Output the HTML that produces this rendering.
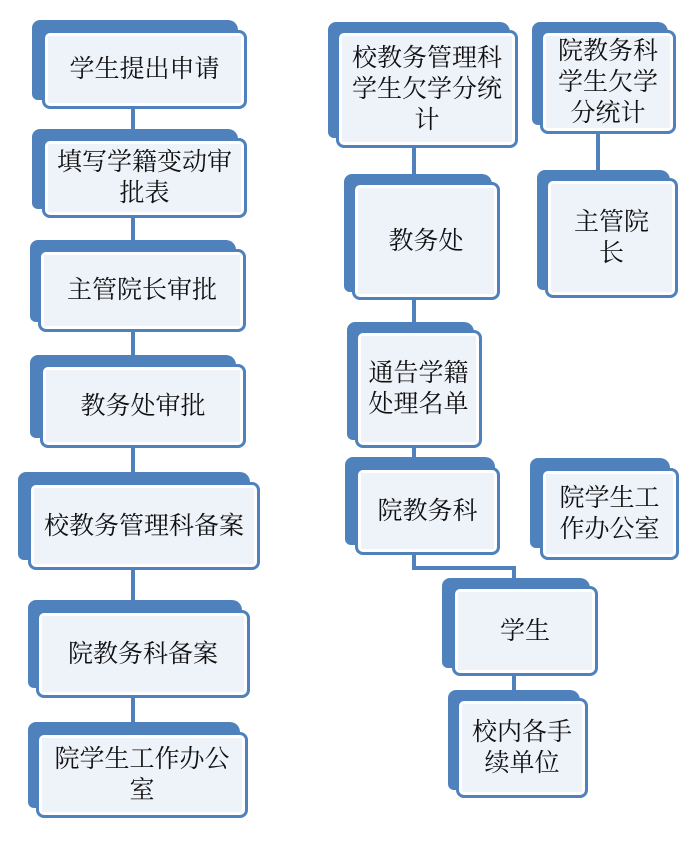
<!DOCTYPE html>
<html><head><meta charset="utf-8"><style>
body{margin:0;width:700px;height:842px;background:#fff;position:relative;overflow:hidden;font-family:"Liberation Serif","Noto Serif CJK SC",serif;}
.b{position:absolute;background:#4f81bd;border-radius:8px 10px 4px 6px;}
.f{position:absolute;box-sizing:border-box;border:3px solid #4f81bd;border-radius:8px;background:#fff;padding:3px;}
.f div{width:100%;height:100%;background:#eef2f9;display:flex;align-items:center;justify-content:center;text-align:center;font-size:25px;line-height:31px;color:#111;}
.l{position:absolute;background:#4f81bd;}
</style></head><body>
<div class="l" style="left:131px;top:105px;width:4px;height:30px"></div>
<div class="l" style="left:131px;top:215px;width:4px;height:30px"></div>
<div class="l" style="left:131px;top:330px;width:4px;height:30px"></div>
<div class="l" style="left:131px;top:445px;width:4px;height:32px"></div>
<div class="l" style="left:131px;top:567px;width:4px;height:38px"></div>
<div class="l" style="left:131px;top:695px;width:4px;height:32px"></div>
<div class="l" style="left:412px;top:145px;width:4px;height:35px"></div>
<div class="l" style="left:412px;top:297px;width:4px;height:30px"></div>
<div class="l" style="left:412px;top:445px;width:4px;height:17px"></div>
<div class="l" style="left:596px;top:130px;width:4px;height:45px"></div>
<div class="l" style="left:412px;top:552px;width:4px;height:18px"></div>
<div class="l" style="left:412px;top:566px;width:104px;height:4px"></div>
<div class="l" style="left:512px;top:566px;width:4px;height:17px"></div>
<div class="l" style="left:512px;top:673px;width:4px;height:22px"></div>

<div class="b" style="left:32px;top:20px;width:206px;height:80px"></div>
<div class="f" style="left:42px;top:30px;width:205px;height:79px"><div>学生提出申请</div></div>

<div class="b" style="left:32px;top:129px;width:206px;height:80px"></div>
<div class="f" style="left:42px;top:138px;width:205px;height:80px"><div>填写学籍变动审<br>批表</div></div>

<div class="b" style="left:30px;top:240px;width:206px;height:82px"></div>
<div class="f" style="left:38px;top:249px;width:208px;height:83px"><div>主管院长审批</div></div>

<div class="b" style="left:30px;top:355px;width:206px;height:83px"></div>
<div class="f" style="left:40px;top:364px;width:206px;height:84px"><div>教务处审批</div></div>

<div class="b" style="left:18px;top:472px;width:232px;height:88px"></div>
<div class="f" style="left:28px;top:482px;width:232px;height:88px"><div>校教务管理科备案</div></div>

<div class="b" style="left:28px;top:600px;width:214px;height:88px"></div>
<div class="f" style="left:36px;top:610px;width:214px;height:88px"><div>院教务科备案</div></div>

<div class="b" style="left:28px;top:722px;width:212px;height:86px"></div>
<div class="f" style="left:36px;top:732px;width:212px;height:86px"><div>院学生工作办公<br>室</div></div>

<div class="b" style="left:328px;top:22px;width:182px;height:116px"></div>
<div class="f" style="left:336px;top:30px;width:182px;height:118px"><div>校教务管理科<br>学生欠学分统<br>计</div></div>

<div class="b" style="left:532px;top:22px;width:136px;height:103px"></div>
<div class="f" style="left:540px;top:30px;width:136px;height:104px"><div>院教务科<br>学生欠学<br>分统计</div></div>

<div class="b" style="left:344px;top:174px;width:148px;height:118px"></div>
<div class="f" style="left:352px;top:182px;width:148px;height:118px"><div>教务处</div></div>

<div class="b" style="left:537px;top:170px;width:133px;height:120px"></div>
<div class="f" style="left:545px;top:178px;width:133px;height:120px"><div>主管院<br>长</div></div>

<div class="b" style="left:347px;top:322px;width:127px;height:118px"></div>
<div class="f" style="left:355px;top:330px;width:127px;height:118px"><div>通告学籍<br>处理名单</div></div>

<div class="b" style="left:345px;top:457px;width:150px;height:88px"></div>
<div class="f" style="left:355px;top:467px;width:145px;height:88px"><div>院教务科</div></div>

<div class="b" style="left:530px;top:458px;width:140px;height:90px"></div>
<div class="f" style="left:540px;top:468px;width:139px;height:92px"><div>院学生工<br>作办公室</div></div>

<div class="b" style="left:442px;top:578px;width:148px;height:90px"></div>
<div class="f" style="left:452px;top:586px;width:146px;height:90px"><div>学生</div></div>

<div class="b" style="left:448px;top:690px;width:132px;height:100px"></div>
<div class="f" style="left:456px;top:698px;width:132px;height:100px"><div>校内各手<br>续单位</div></div>
</body></html>
